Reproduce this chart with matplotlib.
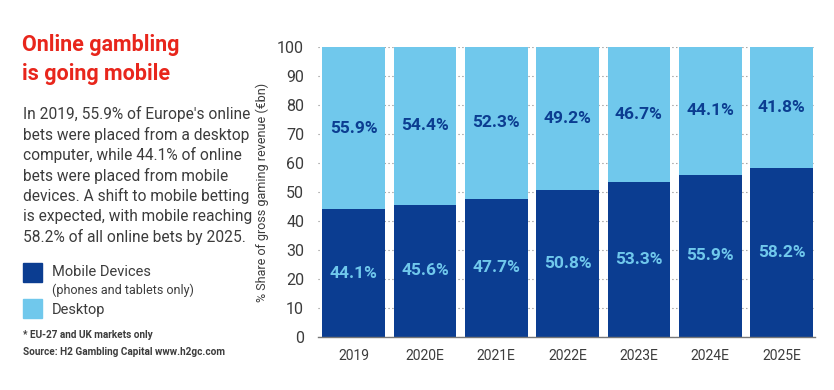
import matplotlib
matplotlib.use("Agg")
import matplotlib.pyplot as plt
from matplotlib.patches import Rectangle

categories = ["2019", "2020E", "2021E", "2022E", "2023E", "2024E", "2025E"]
mobile = [44.1, 45.6, 47.7, 50.8, 53.3, 55.9, 58.2]
desktop = [55.9, 54.4, 52.3, 49.2, 46.7, 44.1, 41.8]
yticks = list(range(0, 101, 10))

DARK = "#0b3d91"
LIGHT = "#70c8ec"
RED = "#e8261c"
GRAY = "#3c3c3c"
FONT = "Roboto"

fig = plt.figure(figsize=(8.34, 3.90), dpi=100)
ax = fig.add_axes([318/834, 1-337/390, (815-318)/834, (337-47)/390])

x = list(range(len(categories)))
w = 0.88
ax.bar(x, mobile, width=w, color=DARK, zorder=3)
ax.bar(x, desktop, width=w, bottom=mobile, color=LIGHT, zorder=3)

for i, (m, d) in enumerate(zip(mobile, desktop)):
    ax.text(i, m/2, f"{m:.1f}%", ha="center", va="center", color=LIGHT,
            fontsize=12.5, fontweight="bold", family=FONT, zorder=4)
    ax.text(i, m + d/2, f"{d:.1f}%", ha="center", va="center", color=DARK,
            fontsize=12.5, fontweight="bold", family=FONT, zorder=4)

ax.set_xlim(-0.5, 6.47)
ax.set_ylim(0, 100)
ax.set_yticks(yticks)
ax.set_yticklabels([str(t) for t in yticks], family=FONT, fontsize=11.5, color=GRAY)
ax.set_xticks(x)
ax.set_xticklabels(categories, family=FONT, fontsize=10, color=GRAY)
ax.tick_params(axis="y", length=0, pad=10)
ax.tick_params(axis="x", length=0, pad=9)
ax.yaxis.grid(True, linestyle=(0, (1, 2.5)), color="#888888", linewidth=0.8, zorder=0)
for s in ["left", "right", "top"]:
    ax.spines[s].set_visible(False)
ax.spines["bottom"].set_color("#777777")
ax.spines["bottom"].set_linewidth(1.0)
ax.spines["bottom"].set_zorder(5)
ax.set_ylabel("% Share of gross gaming revenue (€bn)", family=FONT, fontsize=9,
              color=GRAY, labelpad=6)

# Left panel text
fig.text(22/834, 1-45/390, "Online gambling", color=RED, fontsize=15.5,
         fontweight="bold", family=FONT, va="center", ha="left")
fig.text(22/834, 1-74/390, "is going mobile", color=RED, fontsize=15.5,
         fontweight="bold", family=FONT, va="center", ha="left")

body = ["In 2019, 55.9% of Europe's online",
        "bets were placed from a desktop",
        "computer, while 44.1% of online",
        "bets were placed from mobile",
        "devices. A shift to mobile betting",
        "is expected, with mobile reaching",
        "58.2% of all online bets by 2025."]
for k, line in enumerate(body):
    fig.text(23/834, 1-(114 + k*20.5)/390, line, color=GRAY, fontsize=11.2,
             family=FONT, va="center", ha="left")

fig.patches.append(Rectangle((23/834, 1-282/390), 19/834, 19/390,
                             transform=fig.transFigure, color=DARK))
fig.patches.append(Rectangle((23/834, 1-318/390), 19/834, 19/390,
                             transform=fig.transFigure, color=LIGHT))
fig.text(52/834, 1-272/390, "Mobile Devices", color=GRAY, fontsize=10.5,
         family=FONT, va="center", ha="left")
fig.text(52/834, 1-290/390, "(phones and tablets only)", color=GRAY, fontsize=9,
         family=FONT, va="center", ha="left")
fig.text(52/834, 1-310/390, "Desktop", color=GRAY, fontsize=10.5,
         family=FONT, va="center", ha="left")
fig.text(23/834, 1-335/390, "* EU-27 and UK markets only", color=GRAY, fontsize=7.2,
         fontweight="bold", family=FONT, va="center", ha="left")
fig.text(23/834, 1-352/390, "Source: H2 Gambling Capital www.h2gc.com", color=GRAY,
         fontsize=7.2, fontweight="bold", family=FONT, va="center", ha="left")

fig.savefig("out.png", dpi=100)
